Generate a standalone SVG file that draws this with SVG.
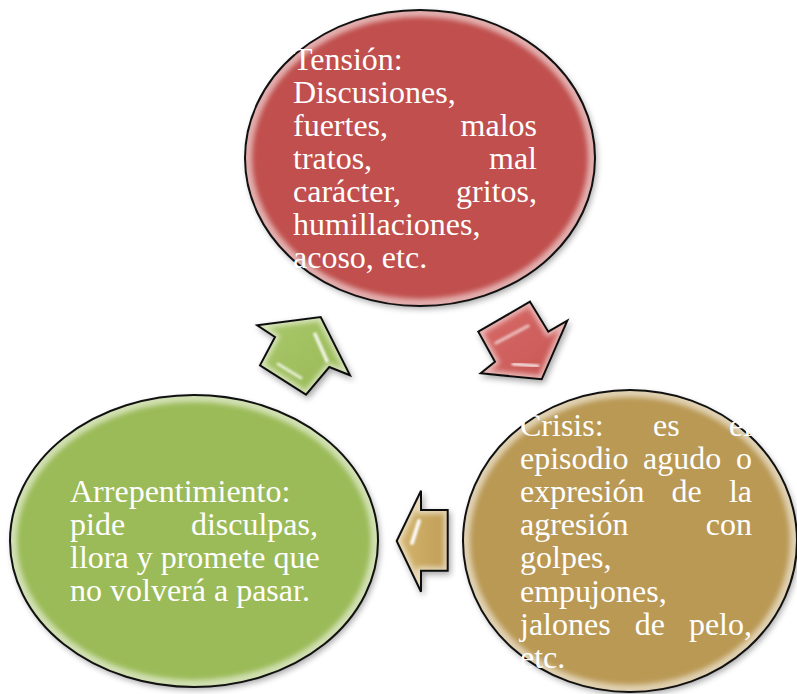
<svg xmlns="http://www.w3.org/2000/svg" width="797" height="694" viewBox="0 0 797 694">
<defs>
<style>
.t{font-family:"Liberation Serif","Times New Roman",serif;font-size:32px;fill:#ffffff}
.e{text-anchor:end}
.ol{stroke:#111;stroke-width:2}
.gl{fill:none;stroke:#ffffff;stroke-opacity:0.55;filter:url(#blur)}
.hx{fill:none;stroke:#ffffff;filter:url(#soft);stroke-linecap:round}
</style>
<filter id="sh" x="-10%" y="-10%" width="125%" height="125%">
<feGaussianBlur in="SourceAlpha" stdDeviation="3"/>
<feOffset dx="2" dy="3" result="o"/>
<feComponentTransfer><feFuncA type="linear" slope="0.35"/></feComponentTransfer>
<feMerge><feMergeNode/><feMergeNode in="SourceGraphic"/></feMerge>
</filter>
<filter id="blur" x="-10%" y="-10%" width="120%" height="120%"><feGaussianBlur stdDeviation="2.5"/></filter>
<filter id="soft" x="-50%" y="-50%" width="200%" height="200%"><feGaussianBlur stdDeviation="0.9"/></filter>
<linearGradient id="hl" x1="0" y1="0" x2="1" y2="1">
<stop offset="0" stop-color="#fff" stop-opacity="0.9"/>
<stop offset="0.35" stop-color="#fff" stop-opacity="0.1"/>
<stop offset="0.65" stop-color="#fff" stop-opacity="0.1"/>
<stop offset="1" stop-color="#fff" stop-opacity="0.9"/>
</linearGradient>
<linearGradient id="ra" x1="0" y1="0" x2="1" y2="1"><stop offset="0" stop-color="#d86c69"/><stop offset="1" stop-color="#c65552"/></linearGradient>
<linearGradient id="ga" x1="0" y1="0" x2="1" y2="1"><stop offset="0" stop-color="#a9c76a"/><stop offset="1" stop-color="#98b956"/></linearGradient>
<linearGradient id="ya" x1="0" y1="0" x2="1" y2="0"><stop offset="0" stop-color="#d4b46e"/><stop offset="1" stop-color="#c09e58"/></linearGradient>
<clipPath id="cr"><ellipse cx="420" cy="158" rx="175" ry="148"/></clipPath>
<clipPath id="cy"><ellipse cx="630" cy="541" rx="167" ry="151"/></clipPath>
<clipPath id="cg"><ellipse cx="194" cy="541" rx="184" ry="146"/></clipPath>
<clipPath id="car"><polygon points="530,301.7 548.3,331.7 567.3,320.7 541.7,379.3 480.7,373.3 495,361.7 478.3,331.7"/></clipPath>
<clipPath id="cag"><polygon points="257.3,325.3 320.7,317 350,375.3 329.3,367 306,394.7 260,365.3 275,337"/></clipPath>
<clipPath id="cay"><polygon points="396.7,541 421,490.7 421,510 447.7,510 447.7,570.7 421,570.7 421,591.7"/></clipPath>
</defs>
<rect width="797" height="694" fill="#ffffff"/>

<g id="connectors">
<g id="arrow-red" filter="url(#sh)">
<polygon points="530,301.7 548.3,331.7 567.3,320.7 541.7,379.3 480.7,373.3 495,361.7 478.3,331.7" fill="url(#ra)"/>
<g clip-path="url(#car)"><polygon points="530,301.7 548.3,331.7 567.3,320.7 541.7,379.3 480.7,373.3 495,361.7 478.3,331.7" class="gl" stroke-width="8"/></g>
<polyline points="496,343 528,326" class="hx" stroke-opacity="0.55" stroke-width="3.5"/>
<polyline points="513,364 538,366" class="hx" stroke-opacity="0.85" stroke-width="3"/>
<polygon points="530,301.7 548.3,331.7 567.3,320.7 541.7,379.3 480.7,373.3 495,361.7 478.3,331.7" fill="none" class="ol"/>
</g>
<g id="arrow-green" filter="url(#sh)">
<polygon points="257.3,325.3 320.7,317 350,375.3 329.3,367 306,394.7 260,365.3 275,337" fill="url(#ga)"/>
<g clip-path="url(#cag)"><polygon points="257.3,325.3 320.7,317 350,375.3 329.3,367 306,394.7 260,365.3 275,337" class="gl" stroke-width="8"/></g>
<polyline points="315,334 327,361" class="hx" stroke-opacity="0.85" stroke-width="3.5"/>
<polyline points="278,364 301,378" class="hx" stroke-opacity="0.75" stroke-width="3"/>
<polygon points="257.3,325.3 320.7,317 350,375.3 329.3,367 306,394.7 260,365.3 275,337" fill="none" class="ol"/>
</g>
<g id="arrow-gold" filter="url(#sh)">
<polygon points="396.7,541 421,490.7 421,510 447.7,510 447.7,570.7 421,570.7 421,591.7" fill="url(#ya)"/>
<g clip-path="url(#cay)"><polygon points="396.7,541 421,490.7 421,510 447.7,510 447.7,570.7 421,570.7 421,591.7" class="gl" stroke-width="8"/></g>
<polyline points="419,521 412,543" class="hx" stroke-opacity="0.95" stroke-width="4"/>
<polyline points="437,523 437,564" class="hx" stroke-opacity="0.75" stroke-width="3.5"/>
<polygon points="396.7,541 421,490.7 421,510 447.7,510 447.7,570.7 421,570.7 421,591.7" fill="none" class="ol"/>
</g>
</g>

<g id="node-tension">
<ellipse cx="420" cy="158" rx="175" ry="148" fill="#c0504d" filter="url(#sh)"/>
<g clip-path="url(#cr)"><ellipse cx="420" cy="158" rx="173" ry="146" stroke="url(#hl)" class="gl" stroke-width="10"/></g>
<ellipse cx="420" cy="158" rx="175" ry="148" fill="none" class="ol"/>
<text class="t" x="293" y="69.5">Tensión:</text>
<text class="t" x="293" y="102.6">Discusiones,</text>
<text class="t" x="293" y="135.7">fuertes,</text><text class="t e" x="537" y="135.7">malos</text>
<text class="t" x="293" y="168.8">tratos,</text><text class="t e" x="537" y="168.8">mal</text>
<text class="t" x="293" y="201.9">carácter,</text><text class="t e" x="537" y="201.9">gritos,</text>
<text class="t" x="293" y="235">humillaciones,</text>
<text class="t" x="293" y="268.1">acoso, etc.</text>
</g>

<g id="node-crisis">
<ellipse cx="630" cy="541" rx="167" ry="151" fill="#ba9955" filter="url(#sh)"/>
<g clip-path="url(#cy)"><ellipse cx="630" cy="541" rx="165" ry="149" stroke="url(#hl)" class="gl" stroke-width="10"/></g>
<ellipse cx="630" cy="541" rx="167" ry="151" fill="none" class="ol"/>
<text class="t" x="520" y="436">Crisis:</text><text class="t" x="653" y="436">es</text><text class="t e" x="752" y="436">el</text>
<text class="t" x="520" y="469.1">episodio</text><text class="t" x="643" y="469.1">agudo</text><text class="t e" x="752" y="469.1">o</text>
<text class="t" x="520" y="502.2">expresión</text><text class="t" x="671.6" y="502.2">de</text><text class="t e" x="752" y="502.2">la</text>
<text class="t" x="520" y="535.3">agresión</text><text class="t e" x="752" y="535.3">con</text>
<text class="t" x="520" y="568.4">golpes,</text>
<text class="t" x="520" y="601.5">empujones,</text>
<text class="t" x="520" y="634.6">jalones</text><text class="t" x="634.7" y="634.6">de</text><text class="t e" x="752" y="634.6">pelo,</text>
<text class="t" x="520" y="667.7">etc.</text>
</g>

<g id="node-arrepentimiento">
<ellipse cx="194" cy="541" rx="184" ry="146" fill="#9bbb59" filter="url(#sh)"/>
<g clip-path="url(#cg)"><ellipse cx="194" cy="541" rx="182" ry="144" stroke="url(#hl)" class="gl" stroke-width="10"/></g>
<ellipse cx="194" cy="541" rx="184" ry="146" fill="none" class="ol"/>
<text class="t" x="70" y="501.7">Arrepentimiento:</text>
<text class="t" x="70" y="535">pide</text><text class="t e" x="318" y="535">disculpas,</text>
<text class="t" x="70" y="568">llora y promete que</text>
<text class="t" x="70" y="600.5">no volverá a pasar.</text>
</g>
</svg>
